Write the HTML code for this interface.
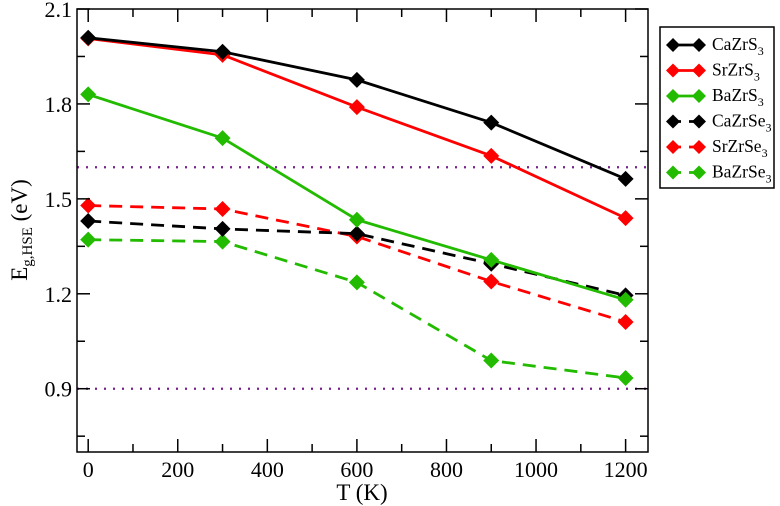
<!DOCTYPE html>
<html><head><meta charset="utf-8"><style>
html,body{margin:0;padding:0;background:#fff;}
svg, svg text{font-family:"Liberation Serif","DejaVu Serif",serif;}
svg{display:block;}
</style></head><body>
<svg id="chart" width="780" height="506" viewBox="0 0 780 506" xmlns="http://www.w3.org/2000/svg" font-family="Liberation Serif, serif">
<g id="grid"></g>
<g id="series"></g>
<rect x="77" y="9" width="571" height="443" fill="none" stroke="#000" stroke-width="1.5"/>
<g id="axes"></g>
<text x="362" y="500" font-size="23" text-anchor="middle">T (K)</text>
<text transform="translate(27,230) rotate(-90)" font-size="23" text-anchor="middle">E<tspan font-size="15" dy="5">g,HSE</tspan><tspan dy="-5"> (eV)</tspan></text>
<g id="legend"></g>
</svg>
<script>
const temps = [0, 300, 600, 900, 1200];
const seriesNames = ["CaZrS", "SrZrS", "BaZrS", "CaZrSe", "SrZrSe", "BaZrSe"];
const caZrS3 = [2.009, 1.965, 1.876, 1.741, 1.563];
const srZrS3 = [2.007, 1.955, 1.79, 1.636, 1.439];
const baZrS3 = [1.83, 1.692, 1.434, 1.307, 1.181];
const caZrSe3 = [1.43, 1.405, 1.39, 1.295, 1.195];
const srZrSe3 = [1.479, 1.468, 1.381, 1.239, 1.111];
const baZrSe3 = [1.371, 1.365, 1.236, 0.989, 0.934];
const refLines = [1.6, 0.9];
const xTicks = [0, 200, 400, 600, 800, 1000, 1200];
const yTicks = [0.9, 1.2, 1.5, 1.8, 2.1];

const NS = "http://www.w3.org/2000/svg";
const X0 = 77, X1 = 648, Y0 = 452, Y1 = 9;
const xMin = -25, xMax = 1250, yMin = 0.7, yMax = 2.1;
function sx(v){ return X0 + (v - xMin) / (xMax - xMin) * (X1 - X0); }
function sy(v){ return Y0 - (v - yMin) / (yMax - yMin) * (Y0 - Y1); }
function mk(tag, attrs, parent){ const e = document.createElementNS(NS, tag); for (const k in attrs) e.setAttribute(k, attrs[k]); parent.appendChild(e); return e; }

const grid = document.getElementById("grid");
refLines.forEach(v => {
  const l = mk("line", {x1: X0, x2: X1, y1: sy(v), y2: sy(v), stroke: "#7a2090", "stroke-width": 2.2, "stroke-dasharray": "2,7"}, grid);
  
  
});

const axes = document.getElementById("axes");
for (let v = 0; v <= 1200; v += 100) {
  const len = (v % 200 === 0) ? 13 : 8;
  const t1 = mk("line", {x1: sx(v), x2: sx(v), y1: Y0, y2: Y0 - len, stroke: "#000", "stroke-width": 1.5}, axes);
  
  
  const t2 = mk("line", {x1: sx(v), x2: sx(v), y1: Y1, y2: Y1 + len, stroke: "#000", "stroke-width": 1.5}, axes);
  
  
}
xTicks.forEach(v => {
  const t = mk("text", {x: sx(v), y: 477, "font-size": 22, "text-anchor": "middle", "font-family": "Liberation Serif, serif"}, axes);
  t.textContent = v;
  
  
});
for (let i = 0; i <= 9; i++) {
  const v = 0.75 + i * 0.15;
  const len = (i % 2 === 1) ? 13 : 8;
  const t1 = mk("line", {x1: X0, x2: X0 + len, y1: sy(v), y2: sy(v), stroke: "#000", "stroke-width": 1.5}, axes);
  
  
  const t2 = mk("line", {x1: X1, x2: X1 - len, y1: sy(v), y2: sy(v), stroke: "#000", "stroke-width": 1.5}, axes);
  
  
}
yTicks.forEach(v => {
  const t = mk("text", {x: 72, y: sy(v) + 8, "font-size": 22, "text-anchor": "end", "font-family": "Liberation Serif, serif"}, axes);
  t.textContent = v.toFixed(1);
  
  
});

const allSeries = [caZrS3, srZrS3, baZrS3, caZrSe3, srZrSe3, baZrSe3];
const colors = ["#000", "#ff0000", "#22bb00", "#000", "#ff0000", "#22bb00"];
const dashed = [false, false, false, true, true, true];
function diamond(cx, cy, r, color, parent){
  return mk("polygon", {points: `${cx},${cy-r} ${cx+r},${cy} ${cx},${cy+r} ${cx-r},${cy}`, fill: color}, parent);
}
const sg = document.getElementById("series");
const order = [5, 4, 3, 2, 1, 0];
order.forEach(i => {
  const vals = allSeries[i];
  const g = mk("g", {}, sg);
  
  
  const pts = vals.map((v, j) => sx(temps[j]) + "," + sy(v)).join(" ");
  const pl = mk("polyline", {points: pts, fill: "none", stroke: colors[i], "stroke-width": 2.8}, g);
  if (dashed[i]) pl.setAttribute("stroke-dasharray", "13,8");
  
  
  vals.forEach((v, j) => {
    const d = diamond(sx(temps[j]), sy(v), 8, colors[i], g);
    
    
  });
});

const lg = document.getElementById("legend");
const box = mk("rect", {x: 660, y: 27, width: 114, height: 161, fill: "#fff", stroke: "#000", "stroke-width": 1.5}, lg);


const legY = [45, 70.5, 96, 121.5, 147, 172.5];
seriesNames.forEach((n, i) => {
  const g = mk("g", {}, lg);
  
  
  const y = legY[i];
  const l = mk("line", {x1: 673, x2: 699, y1: y, y2: y, stroke: colors[i], "stroke-width": 2.8}, g);
  if (dashed[i]) l.setAttribute("stroke-dasharray", "8,8");
  diamond(673, y, 7, colors[i], g);
  diamond(699, y, 7, colors[i], g);
  const t = mk("text", {x: 712, y: y + 5, "font-size": 17.5, "font-family": "Liberation Serif, serif"}, g);
  t.textContent = n;
  const s = mk("tspan", {"font-size": 12, dy: 5}, t);
  s.textContent = "3";
});
</script>
</body></html>
